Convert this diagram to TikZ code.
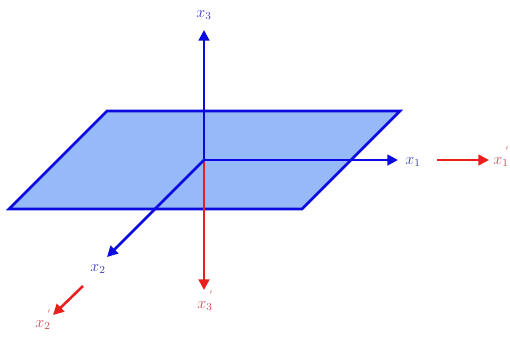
\documentclass[tikz,border=0pt]{standalone}
\usetikzlibrary{arrows.meta}
\definecolor{axblue}{RGB}{10,10,225}
\definecolor{axred}{RGB}{235,30,30}
\definecolor{planefill}{RGB}{150,185,250}
\definecolor{lblblue}{RGB}{60,60,190}
\definecolor{lblred}{RGB}{215,70,80}
\newcommand{\smallprime}{\rlap{\kern-2.5pt\smash{\raisebox{10pt}{\tiny$\prime$}}}}
\tikzset{
  axisarrow/.style={line width=1.9pt,-{Triangle[length=8pt,width=8pt]}},
  bluearrow/.style={axisarrow,draw=axblue},
  redarrow/.style={axisarrow,draw=axred},
  bluelabel/.style={text=lblblue,inner sep=0pt,font=\large},
  redlabel/.style={text=lblred,inner sep=0pt,font=\large}
}
\begin{document}
\begin{tikzpicture}[x=0.75pt,y=-0.75pt]
\useasboundingbox (0,0) rectangle (510,337);
\fill[white] (0,0) rectangle (510,337);
\coordinate (O) at (204,160);
\coordinate (A) at (107,111);
\coordinate (B) at (400,111);
\coordinate (C) at (302,209);
\coordinate (D) at (9,209);
\coordinate (x3tip) at (204,30);
\coordinate (x1tip) at (398,160);
\coordinate (x2tip) at (107,257);
\coordinate (r3tip) at (204,290);
\coordinate (r1start) at (437,160);
\coordinate (r1tip) at (489,160);
\coordinate (r2start) at (83,286);
\coordinate (r2tip) at (53,315);
\draw[fill=planefill,draw=axblue,line width=1.9pt,line join=miter] (A) -- (B) -- (C) -- (D) -- cycle;
\draw[redarrow] (O) -- (r3tip);
\draw[bluearrow] (O) -- (x3tip);
\draw[bluearrow] (O) -- (x1tip);
\draw[bluearrow] (O) -- (x2tip);
\draw[redarrow] (r1start) -- (r1tip);
\draw[redarrow] (r2start) -- (r2tip);
\node[bluelabel] (lx3) at (204,15) {$x_3$};
\node[bluelabel] (lx1) at (413,162) {$x_1$};
\node[bluelabel] (lx2) at (98,269) {$x_2$};
\node[redlabel] (lr3) at (205,306) {$x_3\smallprime$};
\node[redlabel] (lr1) at (501,162) {$x_1\smallprime$};
\node[redlabel] (lr2) at (43,325) {$x_2\smallprime$};
\end{tikzpicture}
\end{document}
